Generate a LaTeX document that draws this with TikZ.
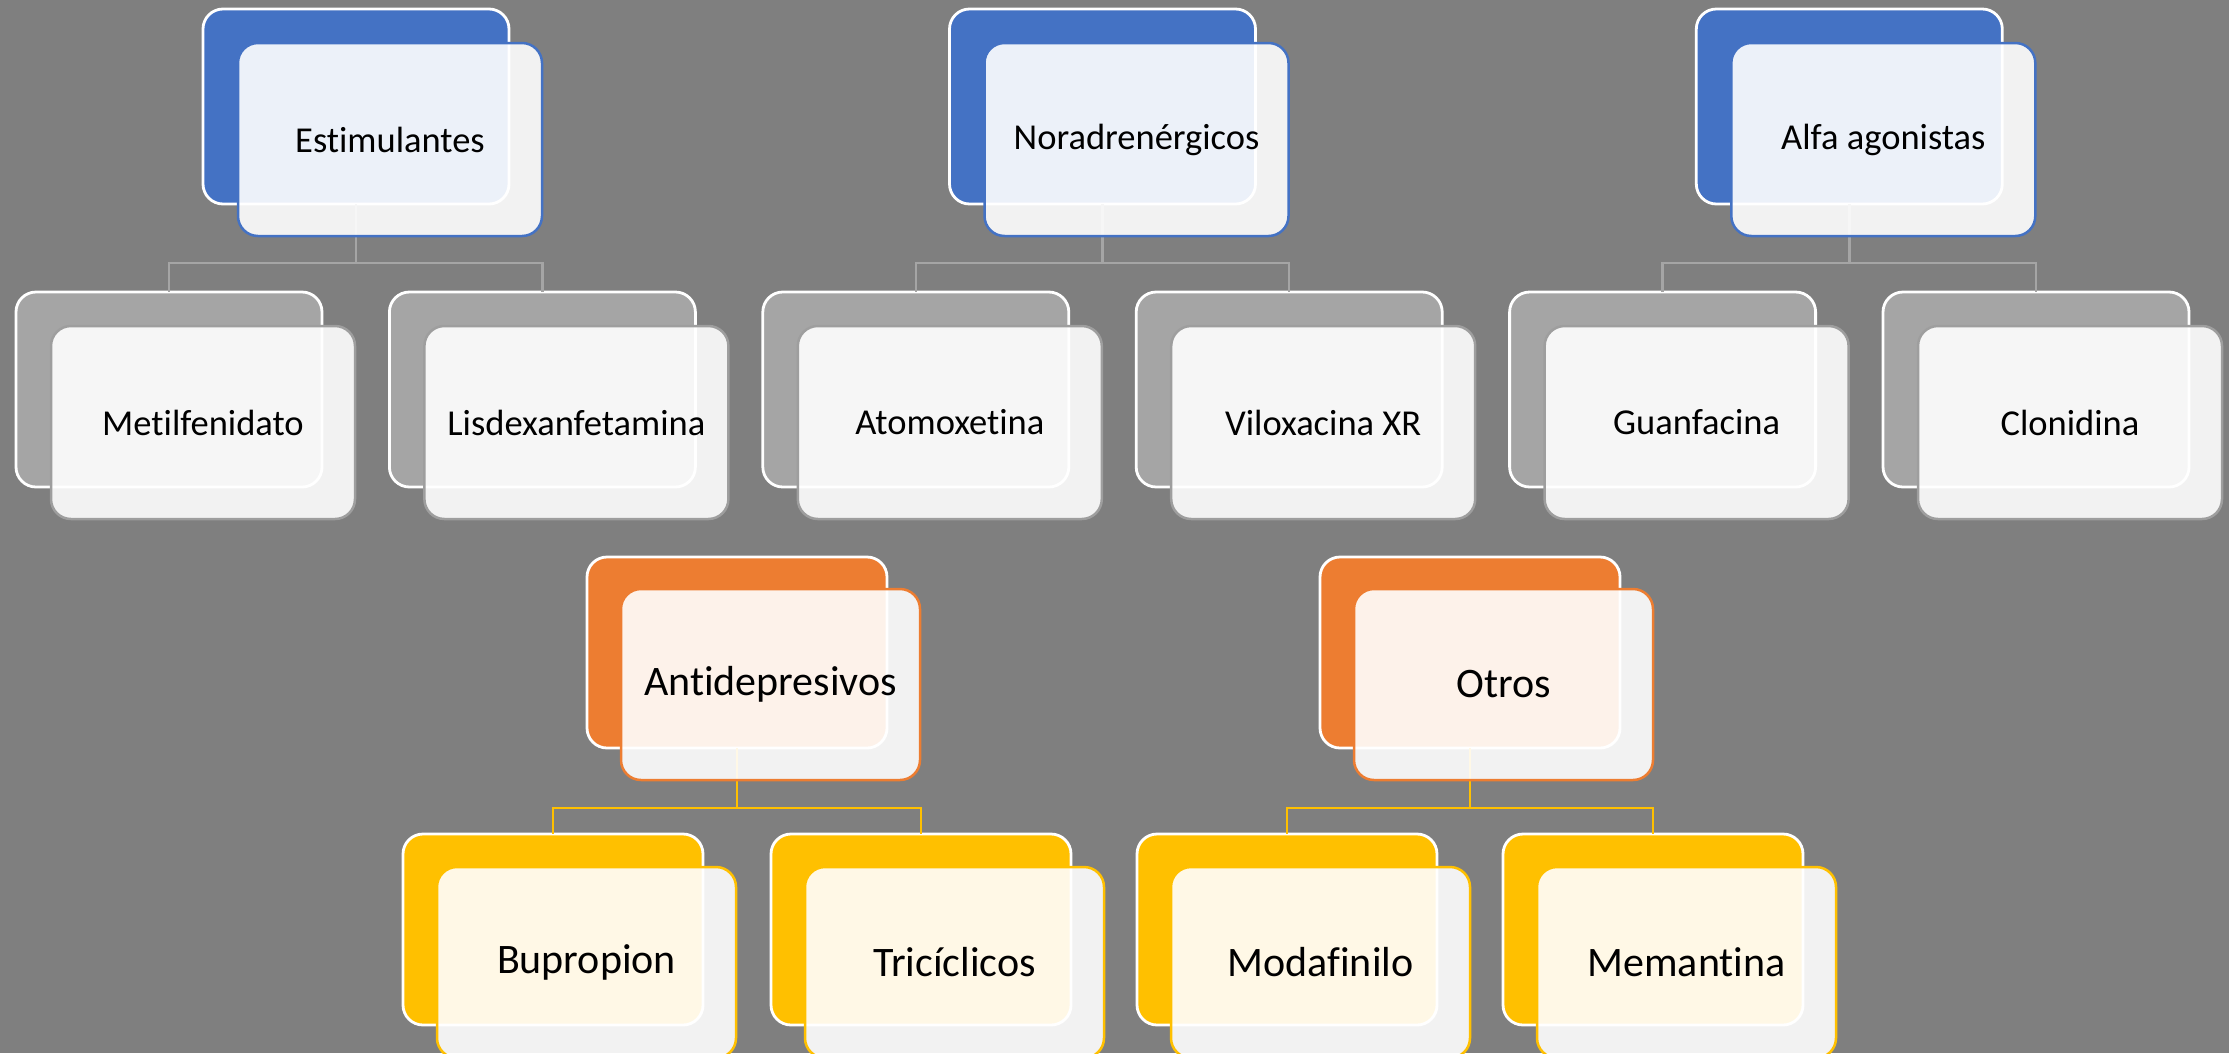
\documentclass[tikz,border=0pt]{standalone}
\usepackage{fontspec}
\setmainfont{Carlito}[Ligatures=NoCommon]
\definecolor{bgc}{HTML}{7F7F7F}
\definecolor{cblue}{HTML}{4472C4}
\definecolor{corange}{HTML}{ED7D31}
\definecolor{cyellow}{HTML}{FFC000}
\definecolor{cgray}{HTML}{A5A5A5}
\definecolor{cgrayline}{HTML}{9E9E9E}
\begin{document}
\begin{tikzpicture}[x=1pt,y=-1pt,
  backbox/.style={draw=white, line width=2.8pt, rounded corners=20pt, anchor=north west,
    inner sep=0pt, outer sep=0pt},
  frontbox/.style={fill=white, fill opacity=0.9, text opacity=1, line width=2.5pt,
    rounded corners=20pt, anchor=north west, inner sep=0pt, outer sep=0pt, align=center, text=black},
  topb/.style={backbox, minimum width=306pt, minimum height=195pt},
  topf/.style={frontbox, minimum width=304pt, minimum height=193pt, font=\fontsize{36.5}{44}\selectfont},
  lowb/.style={backbox, minimum width=300pt, minimum height=191pt},
  lowf/.style={frontbox, minimum width=299pt, minimum height=191pt, font=\fontsize{42}{50}\selectfont},
  conn/.style={line width=2.5pt},
]
\useasboundingbox (0,0) rectangle (2229,1053);
\clip (0,0) rectangle (2229,1053);
\fill[bgc] (0,0) rectangle (2229,1053);

% ---------- back boxes ----------
% top parents
\node[topb, fill=cblue] (bEst) at (203,9) {};
\node[topb, fill=cblue] (bNor) at (949.5,9) {};
\node[topb, fill=cblue] (bAlf) at (1696.3,9) {};
% top children
\node[topb, fill=cgray] (bMet) at (16,292) {};
\node[topb, fill=cgray] (bLis) at (389.4,292) {};
\node[topb, fill=cgray] (bAto) at (762.8,292) {};
\node[topb, fill=cgray] (bVil) at (1136.2,292) {};
\node[topb, fill=cgray] (bGua) at (1509.6,292) {};
\node[topb, fill=cgray] (bClo) at (1883,292) {};
% bottom parents
\node[lowb, fill=corange] (bAnt) at (587,557) {};
\node[lowb, fill=corange] (bOtr) at (1320,557) {};
% bottom children
\node[lowb, fill=cyellow] (bBup) at (403,834) {};
\node[lowb, fill=cyellow] (bTri) at (771,834) {};
\node[lowb, fill=cyellow] (bMod) at (1137,834) {};
\node[lowb, fill=cyellow] (bMem) at (1503,834) {};

% ---------- connectors ----------
\begin{scope}[conn, draw=cgray]
\draw (bEst.south) -- ++(0,59) -| (bMet.north);
\draw (bEst.south) -- ++(0,59) -| (bLis.north);
\draw (bNor.south) -- ++(0,59) -| (bAto.north);
\draw (bNor.south) -- ++(0,59) -| (bVil.north);
\draw (bAlf.south) -- ++(0,59) -| (bGua.north);
\draw (bAlf.south) -- ++(0,59) -| (bClo.north);
\end{scope}
\begin{scope}[conn, draw=cyellow]
\draw (bAnt.south) -- ++(0,60) -| (bBup.north);
\draw (bAnt.south) -- ++(0,60) -| (bTri.north);
\draw (bOtr.south) -- ++(0,60) -| (bMod.north);
\draw (bOtr.south) -- ++(0,60) -| (bMem.north);
\end{scope}

% ---------- front boxes ----------
\node[topf, draw=cblue] (fEst) at (238,43) {Estimulantes};
\node[topf, draw=cblue] (fNor) at (984.5,43) {Noradrenérgicos};
\node[topf, draw=cblue] (fAlf) at (1731.3,43) {Alfa agonistas};

\node[topf, draw=cgrayline] (fMet) at (51,326) {Metilfenidato};
\node[topf, draw=cgrayline] (fLis) at (424.4,326) {Lisdexanfetamina};
\node[topf, draw=cgrayline] (fAto) at (797.8,326) {Atomoxetina};
\node[topf, draw=cgrayline] (fVil) at (1171.2,326) {Viloxacina XR};
\node[topf, draw=cgrayline] (fGua) at (1544.6,326) {Guanfacina};
\node[topf, draw=cgrayline] (fClo) at (1918,326) {Clonidina};

\node[lowf, draw=corange] (fAnt) at (621,589) {Antidepresivos};
\node[lowf, draw=corange] (fOtr) at (1354,589) {Otros};

\node[lowf, draw=cyellow] (fBup) at (437,867) {Bupropion};
\node[lowf, draw=cyellow] (fTri) at (805,867) {Tricíclicos};
\node[lowf, draw=cyellow] (fMod) at (1171,867) {Modafinilo};
\node[lowf, draw=cyellow] (fMem) at (1537,867) {Memantina};
\end{tikzpicture}
\end{document}
